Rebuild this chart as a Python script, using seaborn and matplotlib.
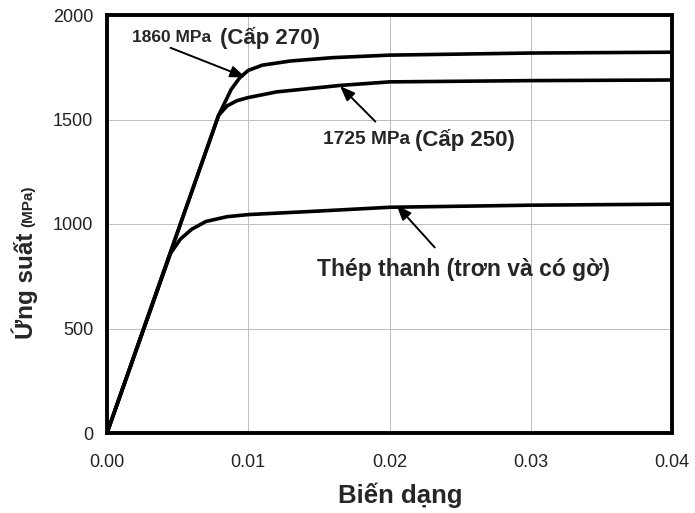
import matplotlib
matplotlib.use("Agg")
import matplotlib.pyplot as plt
import seaborn as sns
import pandas as pd

# --- data ---
strain_1860 = [0, 0.0079, 0.0088, 0.0094, 0.0100, 0.0110, 0.0130, 0.0160, 0.0200, 0.0300, 0.0400]
stress_1860 = [0, 1520, 1645, 1700, 1735, 1760, 1780, 1796, 1808, 1818, 1822]
strain_1725 = [0, 0.0079, 0.0085, 0.0092, 0.0100, 0.0120, 0.0165, 0.0200, 0.0300, 0.0400]
stress_1725 = [0, 1520, 1565, 1590, 1605, 1632, 1663, 1680, 1686, 1689]
strain_bar = [0, 0.0045, 0.0052, 0.0060, 0.0070, 0.0085, 0.0100, 0.0150, 0.0200, 0.0300, 0.0400]
stress_bar = [0, 860, 928, 975, 1012, 1035, 1045, 1062, 1080, 1090, 1095]

x_ticks = [0.00, 0.01, 0.02, 0.03, 0.04]
x_tick_labels = ["0.00", "0.01", "0.02", "0.03", "0.04"]
y_ticks = [0, 500, 1000, 1500, 2000]

series_names = ["1860", "1725", "bar"]

frames = []
for name, xs, ys in zip(series_names,
                        [strain_1860, strain_1725, strain_bar],
                        [stress_1860, stress_1725, stress_bar]):
    frames.append(pd.DataFrame({"strain": xs, "stress": ys, "series": name}))
df = pd.concat(frames, ignore_index=True)

sns.set_style("white")
plt.rcParams['font.family'] = ['Liberation Sans', 'DejaVu Sans']

fig = plt.figure(figsize=(6.95, 5.13), dpi=100)
ax = fig.add_axes([107/695, 1-433/513, (672-107)/695, (433-15)/513])

sns.lineplot(data=df, x="strain", y="stress", hue="series",
             palette={n: "black" for n in series_names}, sort=False,
             estimator=None, legend=False, linewidth=2.6, ax=ax)

ax.set_xlim(0, 0.04)
ax.set_ylim(0, 2000)
ax.set_xticks(x_ticks)
ax.set_xticklabels(x_tick_labels)
ax.set_yticks(y_ticks)
ax.grid(True, color="#bdbdbd", linewidth=0.7)
ax.set_axisbelow(True)
for s in ax.spines.values():
    s.set_color("black")
    s.set_linewidth(2.8)
ax.tick_params(axis="both", labelsize=13, length=0, colors="#222222")
ax.tick_params(axis="x", pad=15)
ax.tick_params(axis="y", pad=10)
ax.set_xlabel("")
ax.set_ylabel("")

fig.text(400/695, 1-495/513, "Biến dạng", ha="center", va="center",
         fontsize=18.5, fontweight="bold")
fig.text(25/695, 1-286/513, "Ứng suất", ha="center", va="center",
         rotation=90, fontsize=17.5, fontweight="bold")
fig.text(28/695, 1-206/513, "(MPa)", ha="center", va="center",
         rotation=90, fontsize=11, fontweight="bold")

arrowprops = dict(arrowstyle="-|>,head_length=0.9,head_width=0.35", color="black",
                  linewidth=1.4, shrinkA=0, shrinkB=0)

# 1860 label
ax.annotate("", xy=(0.0098, 1702), xytext=(0.0045, 1843), arrowprops=arrowprops)
ax.text(0.00177, 1890, "1860 MPa", fontsize=12.5, fontweight="bold", va="center", ha="left")
ax.text(0.0080, 1890, "(Cấp 270)", fontsize=16, fontweight="bold", va="center", ha="left")

# 1725 label
ax.annotate("", xy=(0.0165, 1660), xytext=(0.0190, 1490), arrowprops=arrowprops)
ax.text(0.01529, 1402, "1725 MPa", fontsize=13.8, fontweight="bold", va="center", ha="left")
ax.text(0.0218, 1402, "(Cấp 250)", fontsize=16, fontweight="bold", va="center", ha="left")

# bar label
ax.annotate("", xy=(0.0205, 1090), xytext=(0.0232, 888), arrowprops=arrowprops)
ax.text(0.01487, 780, "Thép thanh (trơn và có gờ)", fontsize=16.5, fontweight="bold",
        va="center", ha="left")

fig.savefig("out.png", dpi=100)
